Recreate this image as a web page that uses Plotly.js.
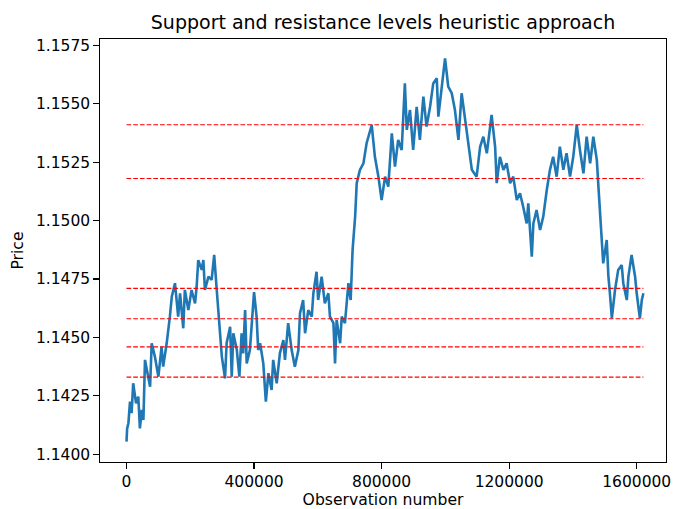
<!DOCTYPE html>
<html>
<head>
<meta charset="utf-8">
<script src="https://cdn.plot.ly/plotly-3.0.1.min.js"></script>
<style>
  html, body { margin: 0; padding: 0; background: #ffffff; }
  #chart { width: 673px; height: 509px; }
</style>
</head>
<body>
<div id="chart"></div>
<script>
// Observation index of each sampled price point
const observation = [
  0, 2000, 6000, 11000, 16000, 21000, 30000, 37000, 42000, 48000,
  53000, 58000, 68000, 74000, 79000, 89000, 100000, 110000, 115000, 126000,
  136000, 142000, 152000, 162000, 168000, 178000, 183000, 194000, 204000, 215000,
  220000, 225000, 236000, 241000, 246000, 257000, 267000, 275000, 283000, 293000,
  299000, 309000, 314000, 325000, 330000, 335000, 346000, 354000, 361000, 366000,
  372000, 377000, 387000, 400000, 408000, 413000, 419000, 429000, 437000, 445000,
  455000, 460000, 471000, 481000, 492000, 497000, 507000, 518000, 528000, 539000,
  544000, 554000, 560000, 570000, 581000, 586000, 596000, 601000, 612000, 622000,
  633000, 638000, 649000, 654000, 659000, 670000, 675000, 685000, 696000, 703000,
  709000, 717000, 722000, 732000, 743000, 753000, 769000, 779000, 790000, 800000,
  811000, 821000, 832000, 842000, 852000, 863000, 873000, 879000, 889000, 899000,
  910000, 920000, 931000, 941000, 952000, 962000, 973000, 978000, 988000, 999000,
  1009000, 1020000, 1030000, 1041000, 1051000, 1062000, 1072000, 1083000, 1098000, 1109000,
  1119000, 1130000, 1145000, 1156000, 1161000, 1171000, 1182000, 1192000, 1203000, 1213000,
  1224000, 1234000, 1244000, 1255000, 1260000, 1271000, 1276000, 1286000, 1297000, 1307000,
  1318000, 1328000, 1338000, 1349000, 1359000, 1370000, 1380000, 1391000, 1401000, 1412000,
  1422000, 1433000, 1443000, 1454000, 1464000, 1475000, 1480000, 1485000, 1490000, 1495000,
  1506000, 1511000, 1516000, 1522000, 1532000, 1542000, 1553000, 1558000, 1569000, 1574000,
  1584000, 1595000, 1600000, 1610000, 1616000, 1621000
];

// Price at each sampled observation
const price = [
  1.14054, 1.14111, 1.14133, 1.14225, 1.14176, 1.14304, 1.14218, 1.14247, 1.14111, 1.14190,
  1.14147, 1.14404, 1.14332, 1.14289, 1.14475, 1.14418, 1.14332, 1.14460, 1.14375, 1.14475,
  1.14589, 1.14674, 1.14732, 1.14589, 1.14689, 1.14539, 1.14703, 1.14617, 1.14703, 1.14646,
  1.14717, 1.14831, 1.14789, 1.14831, 1.14703, 1.14760, 1.14746, 1.14853, 1.14703, 1.14518,
  1.14418, 1.14325, 1.14475, 1.14546, 1.14332, 1.14518, 1.14446, 1.14332, 1.14518, 1.14432,
  1.14617, 1.14389, 1.14446, 1.14694, 1.14589, 1.14446, 1.14475, 1.14389, 1.14225, 1.14347,
  1.14275, 1.14404, 1.14304, 1.14432, 1.14489, 1.14404, 1.14561, 1.14446, 1.14375, 1.14446,
  1.14603, 1.14660, 1.14518, 1.14617, 1.14589, 1.14689, 1.14781, 1.14660, 1.14760, 1.14646,
  1.14689, 1.14589, 1.14561, 1.14389, 1.14575, 1.14475, 1.14589, 1.14561, 1.14732, 1.14660,
  1.14874, 1.15017, 1.15160, 1.15217, 1.15245, 1.15331, 1.15409, 1.15273, 1.15188, 1.15088,
  1.15188, 1.15145, 1.15373, 1.15231, 1.15345, 1.15302, 1.15587, 1.15388, 1.15473, 1.15302,
  1.15487, 1.15345, 1.15530, 1.15402, 1.15487, 1.15587, 1.15609, 1.15445, 1.15559, 1.15694,
  1.15573, 1.15545, 1.15473, 1.15345, 1.15545, 1.15430, 1.15316, 1.15217, 1.15188, 1.15316,
  1.15359, 1.15288, 1.15452, 1.15316, 1.15160, 1.15273, 1.15217, 1.15245, 1.15160, 1.15188,
  1.15088, 1.15117, 1.15059, 1.14988, 1.15074, 1.14846, 1.14988, 1.15045, 1.14960, 1.15017,
  1.15131, 1.15217, 1.15273, 1.15188, 1.15316, 1.15217, 1.15288, 1.15188, 1.15273, 1.15409,
  1.15302, 1.15202, 1.15359, 1.15245, 1.15359, 1.15259, 1.15145, 1.15017, 1.14888, 1.14817,
  1.14917, 1.14767, 1.14689, 1.14582, 1.14703, 1.14789, 1.14810, 1.14732, 1.14660, 1.14760,
  1.14853, 1.14760, 1.14689, 1.14582, 1.14660, 1.14689
];

// Support and resistance levels found by the heuristic
const levels = [1.1541, 1.1518, 1.1471, 1.1458, 1.1446, 1.1433];

// Axis ticks
const xTicks = [0, 400000, 800000, 1200000, 1600000];
const yTicks = [1.1400, 1.1425, 1.1450, 1.1475, 1.1500, 1.1525, 1.1550, 1.1575];

const FONT = 'DejaVu Sans, sans-serif';
const lastObs = observation[observation.length - 1];

const traces = [{
  type: 'scatter',
  mode: 'lines',
  x: observation,
  y: price,
  line: { color: '#1f77b4', width: 2.6 },
  hoverinfo: 'x+y',
  showlegend: false
}];

levels.forEach(function (lvl) {
  traces.push({
    type: 'scatter',
    mode: 'lines',
    x: [observation[0], lastObs],
    y: [lvl, lvl],
    line: { color: '#ff0000', width: 1.2, dash: '4.7px,2px' },
    hoverinfo: 'y',
    showlegend: false
  });
});

const axisCommon = {
  showline: true,
  mirror: true,
  linecolor: '#000000',
  linewidth: 1.2,
  showgrid: false,
  zeroline: false,
  ticks: 'outside',
  ticklen: 5.5,
  tickwidth: 1.2,
  tickcolor: '#000000',
  tickfont: { family: FONT, size: 15.5, color: '#000000' }
};

const layout = {
  width: 673,
  height: 509,
  paper_bgcolor: '#ffffff',
  plot_bgcolor: '#ffffff',
  margin: { l: 100, r: 7, t: 39, b: 47, pad: 0 },
  font: { family: FONT, color: '#000000' },
  title: {
    text: 'Support and resistance levels heuristic approach',
    font: { family: FONT, size: 19, color: '#000000' },
    x: 0.5, xref: 'paper', xanchor: 'center',
    y: 1 - 22 / 509, yref: 'container', yanchor: 'middle'
  },
  xaxis: Object.assign({}, axisCommon, {
    range: [-83100, 1691900],
    tickmode: 'array',
    tickvals: xTicks,
    ticktext: xTicks.map(function (v) { return String(v); }),
    title: { text: 'Observation number', font: { family: FONT, size: 15.6, color: '#000000' }, standoff: 4 }
  }),
  yaxis: Object.assign({}, axisCommon, {
    range: [1.13967, 1.15777],
    tickmode: 'array',
    tickvals: yTicks,
    ticktext: yTicks.map(function (v) { return v.toFixed(4); }),
    title: { text: 'Price', font: { family: FONT, size: 15.6, color: '#000000' }, standoff: 8 }
  }),
  showlegend: false
};

Plotly.newPlot('chart', traces, layout, { displayModeBar: false, staticPlot: true });
</script>
</body>
</html>
